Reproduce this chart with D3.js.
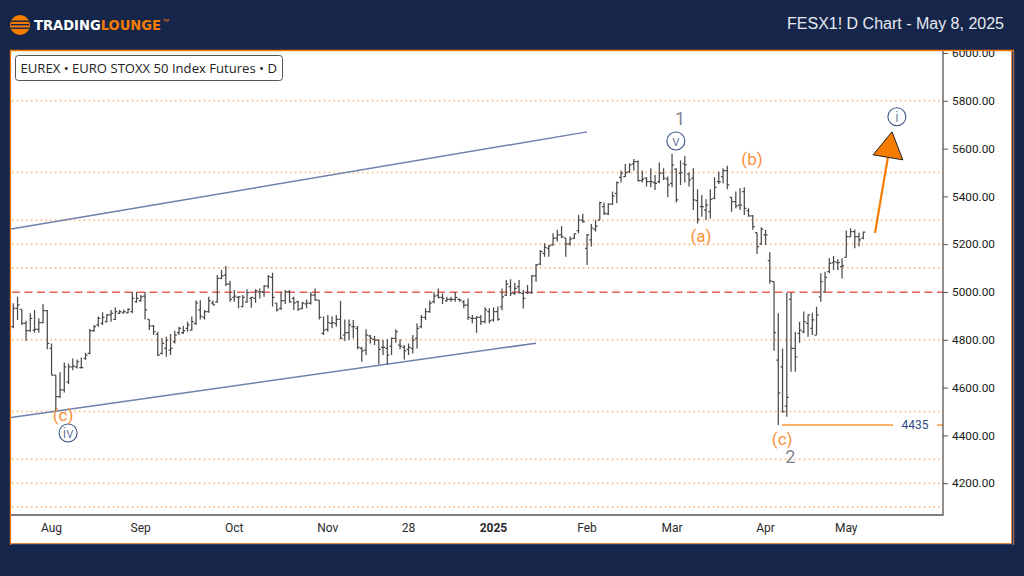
<!DOCTYPE html>
<html>
<head>
<meta charset="utf-8">
<script src="https://cdn.jsdelivr.net/npm/d3@7"></script>
<style>
  html, body { margin: 0; padding: 0; background: #16264a; }
  svg { display: block; }
</style>
</head>
<body>
<svg id="chart" width="1024" height="576"></svg>
<script>
// daily bars, Aug 2024 - May 2025
var opens = [
  4855,4932,4927,4869,4838,4841,4844,4872,4922,4764,
  4652,4562,4590,4624,4687,4687,4684,4722,4743,4838,
  4862,4869,4876,4904,4885,4911,4913,4913,4918,4959,
  4964,4983,4885,4858,4824,4743,4764,4757,4792,4830,
  4830,4848,4841,4869,4925,4894,4918,4955,4959,5057,
  5071,5033,4978,4978,4939,4959,4973,4973,5001,5001,
  5025,5061,4953,4932,4964,5001,4973,4959,4932,4950,
  4953,4987,4966,4827,4844,4869,4869,4885,4820,4830,
  4855,4848,4764,4757,4816,4802,4799,4768,4764,4774,
  4806,4778,4768,4760,4764,4806,4855,4894,4918,4959,
  4987,4978,4964,4969,4969,4969,4959,4945,4890,4890,
  4894,4876,4918,4883,4918,4938,4987,5022,4994,5022,
  4994,4997,4997,5067,5117,5162,5183,5197,5225,5239,
  5225,5201,5225,5257,5301,5183,5218,5262,5301,5357,
  5327,5368,5413,5480,5483,5504,5536,5546,5466,5476,
  5462,5458,5462,5497,5472,5455,5514,5497,5536,5494,
  5476,5382,5357,5343,5336,5392,5462,5483,5508,5396,
  5378,5364,5420,5340,5318,5248,5201,5239,5131,5043,
  4715,4687,4522,4969,4764,4827,4834,4869,4848,4820,
  4980,5001,5085,5123,5123,5106,5145,5232,5253,5232,5225
];
var highs = [
  4953,4980,4927,4880,4911,4925,4890,4950,4925,4785,
  4652,4664,4705,4701,4722,4718,4726,4746,4845,4862,
  4897,4915,4908,4925,4936,4925,4927,4932,5000,5000,
  4987,5000,4885,4862,4834,4806,4813,4824,4838,4855,
  4858,4876,4897,4964,4966,4925,4980,4964,5071,5092,
  5109,5047,5008,4983,4987,5011,4980,5011,5015,5029,
  5071,5081,4953,5000,5008,5008,4980,4964,4959,4969,
  5000,5015,4966,4897,4904,4899,4904,4962,4885,4885,
  4883,4858,4771,4844,4820,4816,4802,4799,4802,4810,
  4844,4802,4778,4785,4820,4869,4904,4932,4964,5000,
  5015,4994,4980,4980,5000,4973,4966,4973,4904,4899,
  4904,4936,4932,4936,4939,5015,5050,5053,5039,5050,
  5008,5029,5071,5117,5176,5204,5197,5246,5260,5276,
  5225,5232,5246,5322,5327,5243,5285,5301,5378,5374,
  5371,5420,5462,5508,5536,5539,5556,5550,5508,5480,
  5518,5490,5542,5518,5483,5578,5518,5550,5569,5500,
  5518,5430,5406,5388,5430,5480,5504,5518,5528,5399,
  5420,5434,5438,5350,5322,5248,5271,5260,5166,5043,
  4911,4764,4997,4997,4834,4876,4918,4906,4913,4938,
  5078,5085,5141,5151,5137,5141,5257,5267,5262,5248,5253
];
var lows = [
  4848,4883,4862,4795,4834,4830,4830,4869,4760,4652,
  4499,4557,4580,4615,4673,4680,4680,4715,4740,4834,
  4855,4862,4872,4876,4883,4908,4911,4911,4911,4955,
  4959,4885,4841,4820,4732,4739,4729,4736,4785,4820,
  4824,4834,4838,4862,4885,4885,4913,4946,4955,5053,
  5025,4959,4959,4932,4936,4955,4934,4955,4973,4980,
  5015,4939,4918,4925,4950,4955,4925,4922,4927,4932,
  4948,4964,4885,4820,4834,4848,4855,4802,4795,4799,
  4806,4760,4708,4736,4785,4778,4698,4736,4698,4736,
  4788,4760,4718,4736,4743,4764,4848,4883,4913,4953,
  4973,4950,4959,4959,4959,4959,4932,4883,4869,4830,
  4862,4869,4869,4876,4880,4924,4983,4983,4987,4994,
  4931,4992,4992,5043,5113,5148,5148,5193,5211,5225,
  5148,5193,5221,5246,5290,5113,5190,5253,5301,5322,
  5322,5364,5371,5458,5480,5497,5508,5462,5458,5441,
  5438,5427,5455,5469,5396,5438,5374,5448,5458,5441,
  5343,5287,5315,5301,5308,5388,5452,5455,5430,5336,
  5350,5343,5322,5315,5260,5159,5197,5197,5036,4754,
  4443,4495,4478,4666,4666,4788,4827,4813,4820,4820,
  4959,5001,5078,5092,5092,5057,5145,5229,5183,5190,5221
];
var closes = [
  4932,4946,4869,4838,4890,4844,4872,4922,4785,4652,
  4562,4590,4687,4687,4690,4708,4684,4736,4838,4855,
  4890,4894,4904,4911,4918,4918,4918,4927,4973,4973,
  4980,4925,4858,4834,4736,4785,4799,4764,4820,4848,
  4838,4862,4876,4955,4899,4918,4964,4946,5057,5067,
  5033,4969,4983,4980,4978,4997,4978,5006,5001,5025,
  5064,4978,4925,4964,5001,4959,4955,4927,4953,4953,
  4987,4966,4894,4841,4872,4872,4885,4806,4830,4862,
  4855,4768,4754,4820,4806,4799,4760,4768,4736,4806,
  4834,4774,4754,4768,4799,4848,4894,4918,4953,4983,
  4978,4973,4969,4969,4978,4966,4945,4894,4890,4894,
  4876,4925,4880,4918,4885,4980,5033,4994,5015,4997,
  4973,4997,5067,5113,5169,5187,5193,5225,5239,5232,
  5201,5221,5243,5301,5294,5239,5267,5276,5374,5329,
  5368,5402,5458,5497,5500,5532,5546,5466,5472,5462,
  5462,5455,5497,5476,5448,5532,5385,5500,5532,5469,
  5385,5304,5357,5364,5388,5438,5462,5508,5448,5378,
  5360,5364,5350,5318,5274,5190,5262,5239,5047,4830,
  4578,4499,4559,4764,4729,4841,4876,4904,4883,4904,
  5043,5061,5120,5127,5123,5109,5232,5253,5232,5218,5251
];

var priceTicks = [4200,4400,4600,4800,5000,5200,5400,5600,5800,6000];
var dotLevels = [4100,4200,4300,4500,4800,5100,5200,5300,5500,5800];
var redLevel = 5000;
var lowLevel = 4443;

var dateTicks = [9,30,52,74,93,113,135,155,177,196];
var dateLabels = ["Aug","Sep","Oct","Nov","28","2025","Feb","Mar","Apr","May"];

// channel lines [bar, price]
var upperChannel = [[-0.5,5264],[135,5670]];
var lowerChannel = [[-0.5,4475],[123,4786]];

// wave labels
var waveBars = [11.7,12.9,156.9,155.9,173.8,161.8,180.9,182.8,207.9];
var wavePrices = [4485,4410,5724,5632,5557,5234,4384,4313,5733];
var waveTexts = ["(c)","iv","1","v","(b)","(a)","(c)","2","i"];
var waveKinds = ["orange","ring","grey","ring","orange","orange","orange","grey","ring"];

// projection arrow
var arrowLine = [[202.75,5247],[205.8,5565]];
var arrowHead = [[206.75,5670],[202.3,5574],[209.3,5553]];

var svg = d3.select("#chart");
var navy = "#16264a", orange = "#f57c00";

var x = d3.scaleLinear().domain([0,200]).range([13.3,863.3]);
var y = d3.scaleLinear().domain([4000,6000]).range([531,53]);
var plotL = 11, plotR = 943, plotT = 51, plotB = 515;

svg.append("clipPath").attr("id","panel").append("rect")
  .attr("x",11).attr("y",51).attr("width",1000).attr("height",492);

// frame
svg.append("rect").attr("x",1011).attr("y",51).attr("width",3).attr("height",494).attr("fill","#2a3d6e");
svg.append("rect").attr("x",11).attr("y",543).attr("width",1003).attr("height",2).attr("fill","#2a3d6e");
svg.append("rect").attr("x",11).attr("y",51).attr("width",1000).attr("height",492).attr("fill","#fff");
svg.append("path").attr("d","M10.5,545V50.5H1014").attr("fill","none").attr("stroke",orange).attr("stroke-width",1.3);
svg.append("path").attr("d","M11,543.5H1011.5V51").attr("fill","none").attr("stroke","#e8883a").attr("stroke-width",1);
svg.append("path").attr("d","M1013.8,51V545").attr("fill","none").attr("stroke","#e8883a").attr("stroke-width",0.8);

// header
var logo = svg.append("g");
logo.append("circle").attr("cx",20).attr("cy",25).attr("r",10).attr("fill",orange);
logo.selectAll("rect").data([20.5,24,27.5]).enter().append("rect")
  .attr("x",11).attr("y",d => d).attr("width",18).attr("height",1.4).attr("fill",navy);
var brand = svg.append("text").attr("x",34).attr("y",30)
  .attr("font-family","'DejaVu Sans'").attr("font-weight","bold").attr("font-size",13.5)
  .attr("textLength",127).attr("lengthAdjust","spacingAndGlyphs");
brand.append("tspan").attr("fill","#fff").text("TRADING");
brand.append("tspan").attr("fill",orange).text("LOUNGE");
svg.append("text").attr("x",163).attr("y",22).attr("fill",orange).attr("font-size",4)
  .attr("font-family","'DejaVu Sans'").text("TM");
svg.append("text").attr("x",1004).attr("y",29).attr("text-anchor","end").attr("fill","#e6eaf0")
  .attr("font-family","'Liberation Sans'").attr("font-size",16).text("FESX1! D Chart - May 8, 2025");

// grid
svg.selectAll(".dot").data(dotLevels).enter().append("line").attr("class","dot")
  .attr("x1",plotL+1).attr("x2",plotR).attr("y1",d => y(d)).attr("y2",d => y(d))
  .attr("stroke","#fdb06b").attr("stroke-width",2).attr("stroke-dasharray","1.2 3.6");
svg.append("line").attr("x1",plotL+1).attr("x2",plotR).attr("y1",y(redLevel)+0.3).attr("y2",y(redLevel)+0.3)
  .attr("stroke","#ee6055").attr("stroke-width",1.4).attr("stroke-dasharray","8 4.5");

// channel
var line = d3.line().x(d => x(d[0])).y(d => y(d[1]));
svg.selectAll(".channel").data([upperChannel,lowerChannel]).enter().append("path").attr("class","channel")
  .attr("d",line).attr("fill","none").attr("stroke","#6f80ad").attr("stroke-width",1.5);

// ohlc bars
var bars = svg.append("g").selectAll("path").data(d3.range(opens.length)).enter().append("path")
  .attr("fill","none").attr("stroke","#4a4a4a").attr("stroke-width",1.25)
  .attr("d",function (i) {
    var p = d3.path(), cx = x(i);
    p.moveTo(cx,y(highs[i])); p.lineTo(cx,y(lows[i]));
    p.moveTo(cx-2,y(opens[i])); p.lineTo(cx,y(opens[i]));
    p.moveTo(cx,y(closes[i])); p.lineTo(cx+2,y(closes[i]));
    return p.toString();
  });

// low line and label
svg.append("line").attr("x1",782).attr("x2",893).attr("y1",y(lowLevel)).attr("y2",y(lowLevel))
  .attr("stroke","#fdb06b").attr("stroke-width",2);
svg.append("line").attr("x1",937).attr("x2",plotR).attr("y1",y(lowLevel)).attr("y2",y(lowLevel))
  .attr("stroke","#fdb06b").attr("stroke-width",2);
svg.append("text").attr("x",915).attr("y",y(lowLevel)+4).attr("text-anchor","middle")
  .attr("fill","#2f4a80").attr("font-family","Roboto").attr("font-size",12).text("4435");

// axes
var yAxis = d3.axisRight(y).tickValues(priceTicks).tickFormat(d3.format(".2f")).tickSize(5).tickPadding(4);
var gy = svg.append("g").attr("clip-path","url(#panel)").append("g")
  .attr("transform","translate("+plotR+",0)").call(yAxis);
gy.select(".domain").remove();
gy.selectAll("line").attr("stroke","#555");
gy.selectAll("text").attr("font-family","Roboto").attr("font-size",11.8).attr("fill","#1a1a1a");

var xAxis = d3.axisBottom(x).tickValues(dateTicks).tickFormat((d,i) => dateLabels[i]).tickSize(0).tickPadding(8);
var gx = svg.append("g").attr("transform","translate(-0.6,"+plotB+")").call(xAxis);
gx.select(".domain").remove();
gx.selectAll("text").attr("font-family","Roboto").attr("font-size",12).attr("fill","#2a2a2a")
  .attr("font-weight",d => d == 113 ? "bold" : "normal");

svg.append("path").attr("d","M"+plotL+","+plotB+"H"+plotR+"V"+plotT).attr("fill","none")
  .attr("stroke","#555").attr("stroke-width",1.3);

// title box
svg.append("rect").attr("x",15.5).attr("y",55.5).attr("width",267).attr("height",25).attr("rx",3)
  .attr("fill","#fff").attr("stroke","#555");
svg.append("text").attr("x",20.5).attr("y",72.5).attr("fill","#222")
  .attr("font-family","'Open Sans'").attr("font-size",13.1)
  .text("EUREX \u2022 EURO STOXX 50 Index Futures \u2022 D");

// wave labels
var waves = svg.append("g").selectAll("g").data(d3.range(waveTexts.length)).enter().append("g")
  .attr("transform",i => "translate("+x(waveBars[i])+","+y(wavePrices[i])+")");
waves.filter(i => waveKinds[i] == "ring").append("circle").attr("r",9)
  .attr("fill","#fff").attr("stroke","#3d5688").attr("stroke-width",1.1);
waves.append("text").attr("text-anchor","middle").attr("dy","0.36em")
  .attr("font-family","Roboto").attr("font-weight",i => waveKinds[i] == "ring" ? 300 : 400)
  .attr("font-size",function (i) {
    if (waveKinds[i] == "grey") return 18;
    return waveKinds[i] == "ring" ? 15 : 17;
  })
  .attr("fill",function (i) {
    if (waveKinds[i] == "ring") return "#3d5688";
    if (waveKinds[i] == "grey") return "#7f8390";
    return "#f7913a";
  })
  .text(i => waveTexts[i]);

// arrow
svg.append("path").datum(arrowLine).attr("d",line).attr("fill","none").attr("stroke",orange).attr("stroke-width",2.2);
svg.append("path").datum(arrowHead).attr("d",d => line(d)+"Z").attr("fill",orange)
  .attr("stroke","#222").attr("stroke-width",1);
</script>
</body>
</html>
